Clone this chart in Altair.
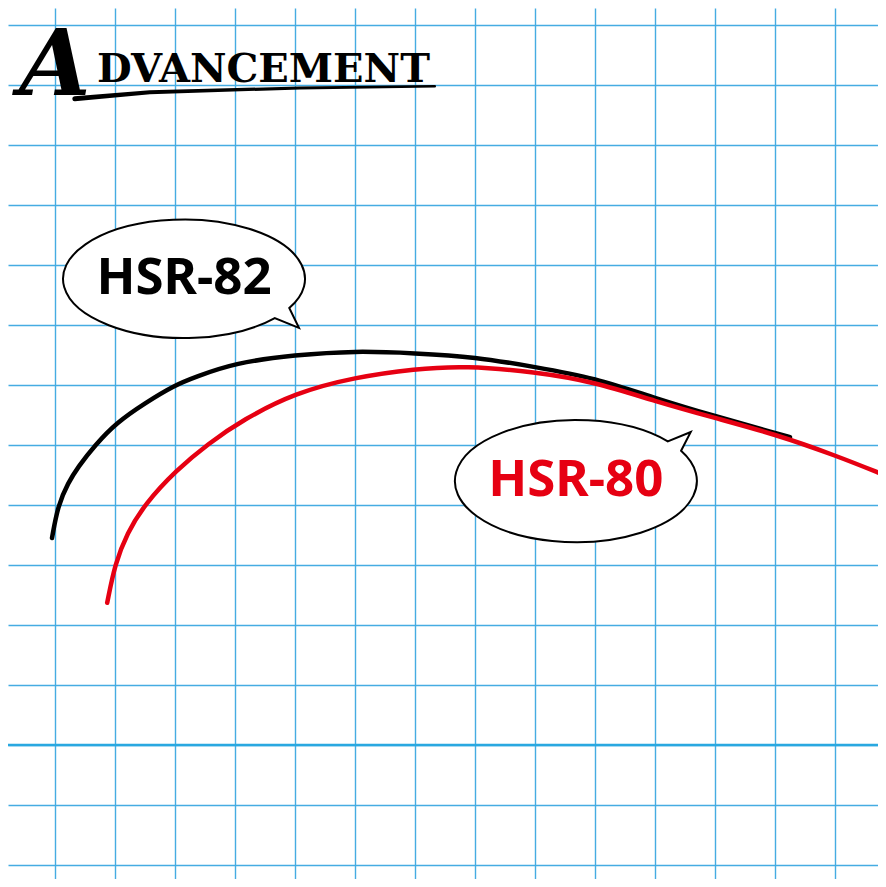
import altair as alt
import pandas as pd

# grid units: one cell = 60 px, x = 0 on the first vertical line, y = 0 on the bold line
grid_x = list(range(0, 14))
grid_y = list(range(-2, 13))
bold_y = [0]

hsr82_x = [-0.05, 0.05, 0.22, 0.38, 0.67, 1.02, 1.5, 2.0, 2.33, 3.0, 4.0, 5.0, 6.0, 7.0, 8.0, 9.0, 10.0, 11.0, 12.0, 12.25]
hsr82_y = [3.45, 4.0, 4.37, 4.63, 5.0, 5.37, 5.7, 6.0, 6.13, 6.37, 6.5, 6.57, 6.53, 6.47, 6.3, 6.12, 5.78, 5.48, 5.2, 5.13]

hsr80_x = [0.87, 1.0, 1.2, 1.5, 2.02, 2.55, 3.13, 4.0, 5.0, 6.0, 6.83, 8.0, 9.0, 10.0, 11.0, 12.0, 13.0, 13.82]
hsr80_y = [2.37, 3.02, 3.53, 4.02, 4.58, 5.02, 5.42, 5.87, 6.13, 6.27, 6.32, 6.22, 6.05, 5.73, 5.45, 5.18, 4.83, 4.5]

models = ["HSR-82", "HSR-80"]
model_colors = ["#000000", "#e60012"]
bubble_x = [2.15, 8.68]
bubble_y = [7.77, 4.4]

# speech bubble outlines (unit = half the bubble width), tail included
bubble_paths = [
    "M 0.87 0.2415 A 1 0.49 0 1 0 0.75 0.324 L 0.95 0.405 Z",
    "M 0.87 -0.249 A 1 0.505 0 1 1 0.76 -0.328 L 0.95 -0.405 Z",
]

swoosh_x = [0.33, 1.58, 4.08, 6.33]
swoosh_y = [10.77, 10.88, 10.95, 10.98]
swoosh_w = [5, 4, 3, 2.5]

W, H = 870, 871
xs = alt.Scale(domain=[-47 / 60, 823 / 60], nice=False, zero=False)
ys = alt.Scale(domain=[-134 / 60, 737 / 60], nice=False, zero=False)
grid_color = "#45ace2"

X = alt.X("x:Q", scale=xs, axis=alt.Axis(values=grid_x, grid=True, labels=False, ticks=False,
                                          domain=False, gridColor=grid_color, gridWidth=1.4,
                                          gridOpacity=1),
          title=None)
Y = alt.Y("y:Q", scale=ys, axis=alt.Axis(values=grid_y, grid=True, labels=False, ticks=False,
                                          domain=False, gridColor=grid_color, gridWidth=1.4,
                                          gridOpacity=1),
          title=None)
color = alt.Color("model:N", scale=alt.Scale(domain=models, range=model_colors), legend=None)

curves = pd.concat([
    pd.DataFrame({"x": hsr82_x, "y": hsr82_y, "model": "HSR-82"}),
    pd.DataFrame({"x": hsr80_x, "y": hsr80_y, "model": "HSR-80"}),
])
bubbles = pd.DataFrame({"x": bubble_x, "y": bubble_y, "model": models})

bold = alt.Chart(pd.DataFrame({"y": bold_y})).mark_rule(
    color="#29a8e0", strokeWidth=2.5
).encode(y=Y)

lines = alt.Chart(curves).mark_line(
    strokeWidth=4.5, interpolate="basis", strokeCap="round"
).encode(x=X, y=Y, color=color, order="x:Q")

shapes = alt.Chart(bubbles).mark_point(
    filled=True, fill="white", stroke="black", strokeWidth=2, opacity=1, size=242 ** 2
).encode(
    x=X, y=Y,
    shape=alt.Shape("model:N", scale=alt.Scale(domain=models, range=bubble_paths), legend=None),
)

labels = alt.Chart(bubbles).mark_text(
    font="Noto Sans", fontWeight="bold", fontSize=51, align="center", baseline="middle"
).encode(x=X, y=Y, text="model:N", color=color)

logo_a = alt.Chart(pd.DataFrame({"x": [0.0], "y": [10.83]})).mark_text(
    text="A", font="DejaVu Serif", fontWeight="bold", fontStyle="italic",
    fontSize=92, align="center", baseline="alphabetic", color="black"
).encode(x=X, y=Y)

logo_rest = alt.Chart(pd.DataFrame({"x": [0.7], "y": [11.05]})).mark_text(
    text="DVANCEMENT", font="DejaVu Serif", fontWeight="bold",
    fontSize=40, align="left", baseline="alphabetic", color="black"
).encode(x=X, y=Y)

swoosh = alt.Chart(pd.DataFrame({"x": swoosh_x, "y": swoosh_y, "w": swoosh_w})).mark_trail(
    color="black", interpolate="monotone"
).encode(x=X, y=Y, size=alt.Size("w:Q", scale=None, legend=None))

chart = alt.layer(bold, lines, shapes, labels, swoosh, logo_a, logo_rest).properties(
    width=W, height=H, autosize=alt.AutoSizeParams(type="none"), padding=0,
    background="white",
).configure_view(strokeWidth=0)

chart.save("out.html", embed_options={"renderer": "svg", "actions": False})
